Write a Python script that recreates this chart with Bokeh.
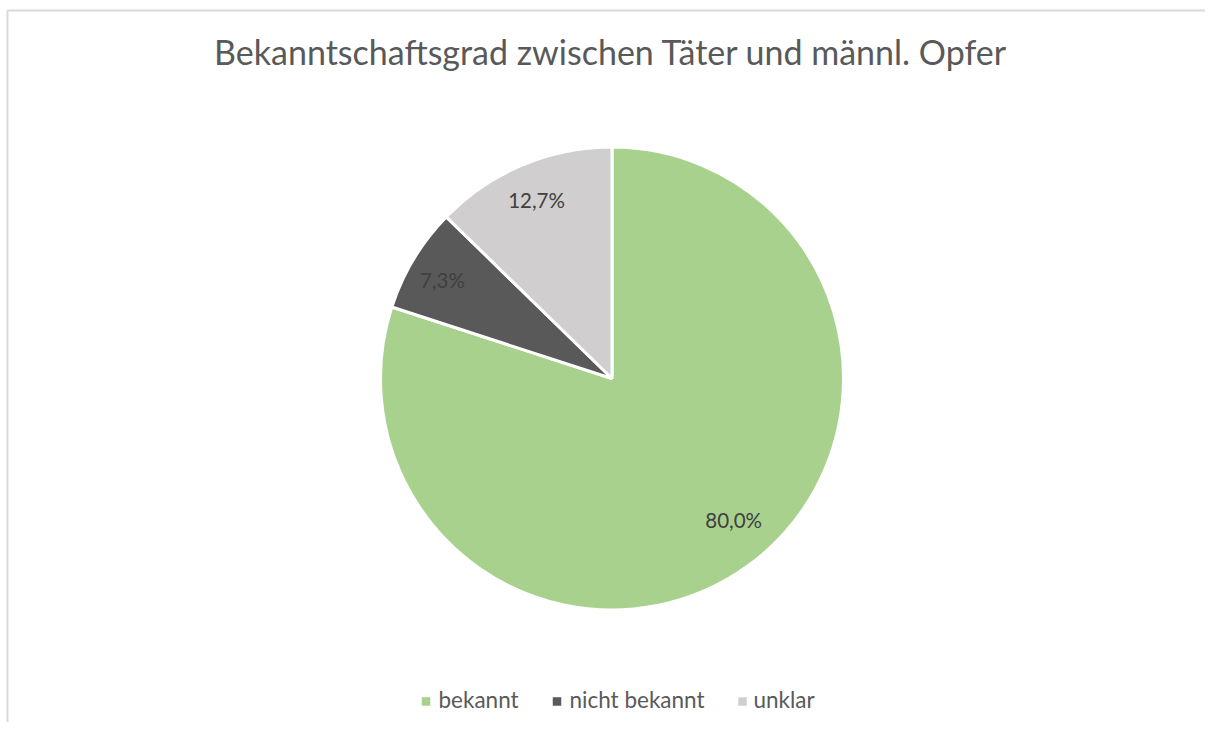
import numpy as np
from bokeh.plotting import figure
from bokeh.models import Range1d, ColumnDataSource
from bokeh.core.properties import value
from bokeh.embed import file_html
from bokeh.resources import INLINE

# ---- data ----
title = "Bekanntschaftsgrad zwischen Täter und männl. Opfer"
categories = ["bekannt", "nicht bekannt", "unklar"]
shares = [80.0, 7.3, 12.7]
labels = ["80,0%", "7,3%", "12,7%"]
colors = ["#A9D18E", "#595959", "#D0CECE"]

FONT = "Lato"
W, H = 1205, 722
p = figure(width=W, height=H, output_backend="svg", toolbar_location=None,
           x_range=Range1d(0, W), y_range=Range1d(-H, 0),
           min_border=0, outline_line_color=None)
p.axis.visible = False
p.grid.visible = False
p.background_fill_color = "white"
p.border_fill_color = "white"

# chart border (only left & top visible in the reference crop)
p.line([7, 7], [-730, -10], line_color="#D9D9D9", line_width=2)
p.line([7, 1213], [-10, -10], line_color="#D9D9D9", line_width=2)

# pie
cx, cy, r = 611.5, -378, 231.5
vals = np.array(shares, dtype=float)
frac = vals / vals.sum()
cum = np.concatenate([[0], np.cumsum(frac)])
start = np.pi / 2 - 2 * np.pi * cum[:-1]
end = np.pi / 2 - 2 * np.pi * cum[1:]
src = ColumnDataSource(dict(start=start, end=end, color=colors, cat=categories))
p.wedge(x=cx, y=cy, radius=r, start_angle="start", end_angle="end",
        direction="clock", fill_color="color", line_color="white",
        line_width=3, source=src)

# data labels (Excel best-fit placement: radius factor + small angle shift)
mid = (cum[:-1] + cum[1:]) / 2
lab_r = np.array([0.806, 0.846, 0.836]) * r
shift = np.deg2rad([4.7, 1.1, 0.1])
ang = np.pi / 2 - 2 * np.pi * mid + shift
lx = cx + lab_r * np.cos(ang)
ly = cy + lab_r * np.sin(ang)
p.text(x=lx, y=ly, text=labels, text_align="center", text_baseline="middle",
       text_font=value(FONT), text_font_size="20.5px", text_color="#404040")

# title
p.text(x=[610.5], y=[-51], text=[title], text_align="center", text_baseline="middle",
       text_font=value(FONT), text_font_size="34px", text_color="#595959")

# legend
lgx = [425.5, 556.5, 742]
txx = [438, 569, 753]
p.scatter(x=lgx, y=[-701] * 3, marker="square", size=8.5, fill_color=colors,
          line_color=None)
p.text(x=txx, y=[-698.5] * 3, text=categories, text_align="left",
       text_baseline="middle", text_font=value(FONT), text_font_size="22.5px",
       text_color="#595959")

open("out.html", "w").write(file_html(p, INLINE))
